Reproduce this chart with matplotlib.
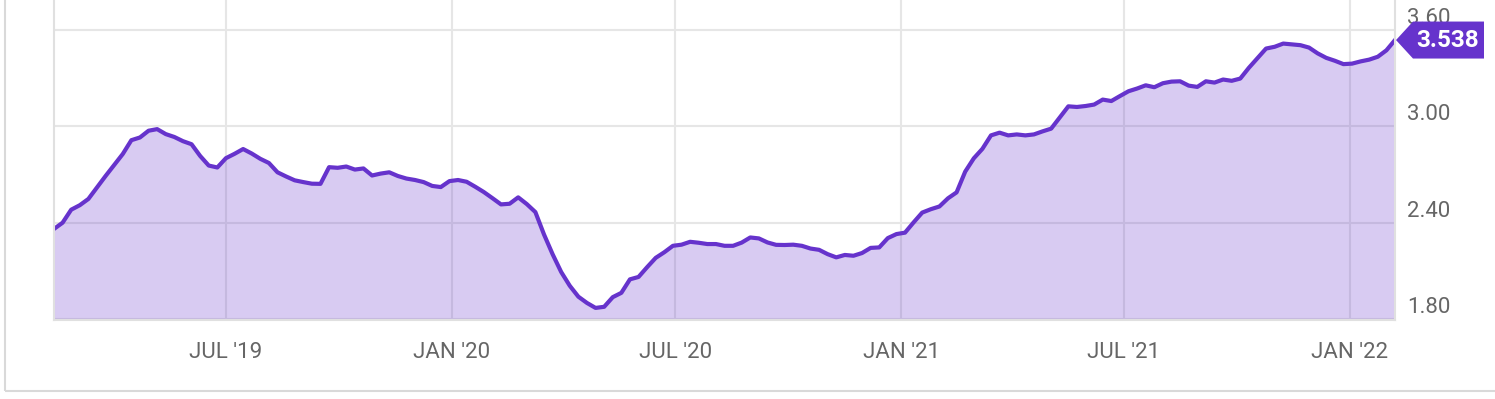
import numpy as np
import pandas as pd
import matplotlib
matplotlib.use("Agg")
import matplotlib.pyplot as plt
import matplotlib.dates as mdates
from matplotlib.patches import Polygon, Rectangle
from matplotlib.transforms import ScaledTranslation, IdentityTransform

plt.rcParams["font.family"] = ["Roboto", "DejaVu Sans"]

# ----------------------------
# Data (weekly)
# ----------------------------
START_DATE = "2019-02-11"

values = [
    2.361, 2.400, 2.481, 2.509, 2.548, 2.620, 2.691, 2.759, 2.828, 2.914,
    2.931, 2.973, 2.983, 2.952, 2.934, 2.908, 2.889, 2.816, 2.756, 2.744,
    2.802, 2.829, 2.859, 2.831, 2.798, 2.772, 2.714, 2.688, 2.664, 2.653,
    2.643, 2.642, 2.746, 2.742, 2.750, 2.731, 2.738, 2.694, 2.706, 2.714,
    2.691, 2.675, 2.666, 2.653, 2.629, 2.622, 2.659, 2.666, 2.655, 2.624,
    2.591, 2.553, 2.514, 2.518, 2.558, 2.516, 2.466, 2.327, 2.204, 2.093,
    2.007, 1.939, 1.900, 1.869, 1.876, 1.936, 1.963, 2.047, 2.062, 2.123,
    2.181, 2.216, 2.256, 2.263, 2.281, 2.275, 2.267, 2.267, 2.256, 2.256,
    2.276, 2.308, 2.302, 2.277, 2.262, 2.261, 2.263, 2.256, 2.239, 2.231,
    2.204, 2.184, 2.199, 2.194, 2.211, 2.243, 2.246, 2.304, 2.329, 2.338,
    2.402, 2.463, 2.484, 2.501, 2.552, 2.589, 2.718, 2.801, 2.860, 2.944,
    2.961, 2.944, 2.950, 2.944, 2.950, 2.969, 2.986, 3.056, 3.125, 3.121,
    3.127, 3.136, 3.167, 3.158, 3.189, 3.219, 3.236, 3.256, 3.244, 3.269,
    3.279, 3.281, 3.254, 3.246, 3.281, 3.273, 3.292, 3.284, 3.298, 3.365,
    3.425, 3.485, 3.496, 3.516, 3.511, 3.506, 3.491, 3.455, 3.427, 3.409,
    3.388, 3.391, 3.405, 3.416, 3.434, 3.474, 3.538,
]

dates = pd.date_range(START_DATE, periods=len(values), freq="7D")

x_tick_dates = pd.to_datetime([
    "2019-07-01", "2020-01-01", "2020-07-01",
    "2021-01-01", "2021-07-01", "2022-01-01",
])
y_ticks = [1.80, 2.40, 3.00, 3.60]
last_label = "3.538"

LINE_COLOR = "#6633cc"
GRID_COLOR = "#e6e6e6"
TEXT_COLOR = "#666666"

# ----------------------------
# Figure
# ----------------------------
fig = plt.figure(figsize=(14.95, 3.99), dpi=100)
ax = fig.add_axes([54 / 1495, 79 / 399, 1341 / 1495, 320 / 399])

# outer frame (top/right run off the picture)
fig.add_artist(Rectangle(
    (4.5 / 1495, 8 / 399), 1.2, 1.2,
    transform=fig.transFigure, fill=False,
    edgecolor="#d9d9d9", linewidth=1.5
))

x = mdates.date2num(dates)

ax.fill_between(x, values, 1.0, color=LINE_COLOR, alpha=0.25, linewidth=0)
ax.plot(x, values, color=LINE_COLOR, linewidth=3.0, solid_joinstyle="round")

ax.set_xlim(x[0], x[-1])
ax.set_ylim(1.80 - 1 / 160, 3.60 + 30 / 160)

# ----------------------------
# Grid & spines
# ----------------------------
ax.set_axisbelow(True)
ax.grid(True, color=GRID_COLOR, linewidth=1.5)

for side in ["left", "right", "bottom"]:
    ax.spines[side].set_color("#e0e0e0")
    ax.spines[side].set_linewidth(1.5)
ax.spines["top"].set_visible(False)

# ----------------------------
# Ticks
# ----------------------------
ax.set_xticks(mdates.date2num(x_tick_dates))
ax.set_xticklabels([d.strftime("%b '%y").upper() for d in x_tick_dates])
ax.tick_params(axis="x", length=0, pad=16, labelsize=16, labelcolor=TEXT_COLOR)

ax.yaxis.tick_right()
ax.set_yticks(y_ticks)
ax.set_yticklabels([f"{v:.2f}" for v in y_ticks])
ax.tick_params(axis="y", length=0, pad=9, labelsize=16, labelcolor=TEXT_COLOR)

shift = ScaledTranslation(0, 6 / 100, fig.dpi_scale_trans)
for label in ax.get_yticklabels():
    label.set_verticalalignment("baseline")
    label.set_transform(label.get_transform() + shift)

# ----------------------------
# Last value badge
# ----------------------------
ax_x, ax_y = ax.transData.transform((x[-1], values[-1]))
badge = Polygon(
    [
        (ax_x + 1, ax_y),
        (ax_x + 18, ax_y + 18.5),
        (ax_x + 89, ax_y + 18.5),
        (ax_x + 89, ax_y - 18.5),
        (ax_x + 18, ax_y - 18.5),
    ],
    closed=True, transform=IdentityTransform(),
    facecolor=LINE_COLOR, edgecolor="none", clip_on=False
)
fig.add_artist(badge)
fig.text(
    ax_x + 53, ax_y, last_label,
    transform=IdentityTransform(),
    ha="center", va="center",
    color="white", fontsize=17.5, fontweight="bold"
)

fig.savefig("out.png", dpi=100)
plt.close(fig)
